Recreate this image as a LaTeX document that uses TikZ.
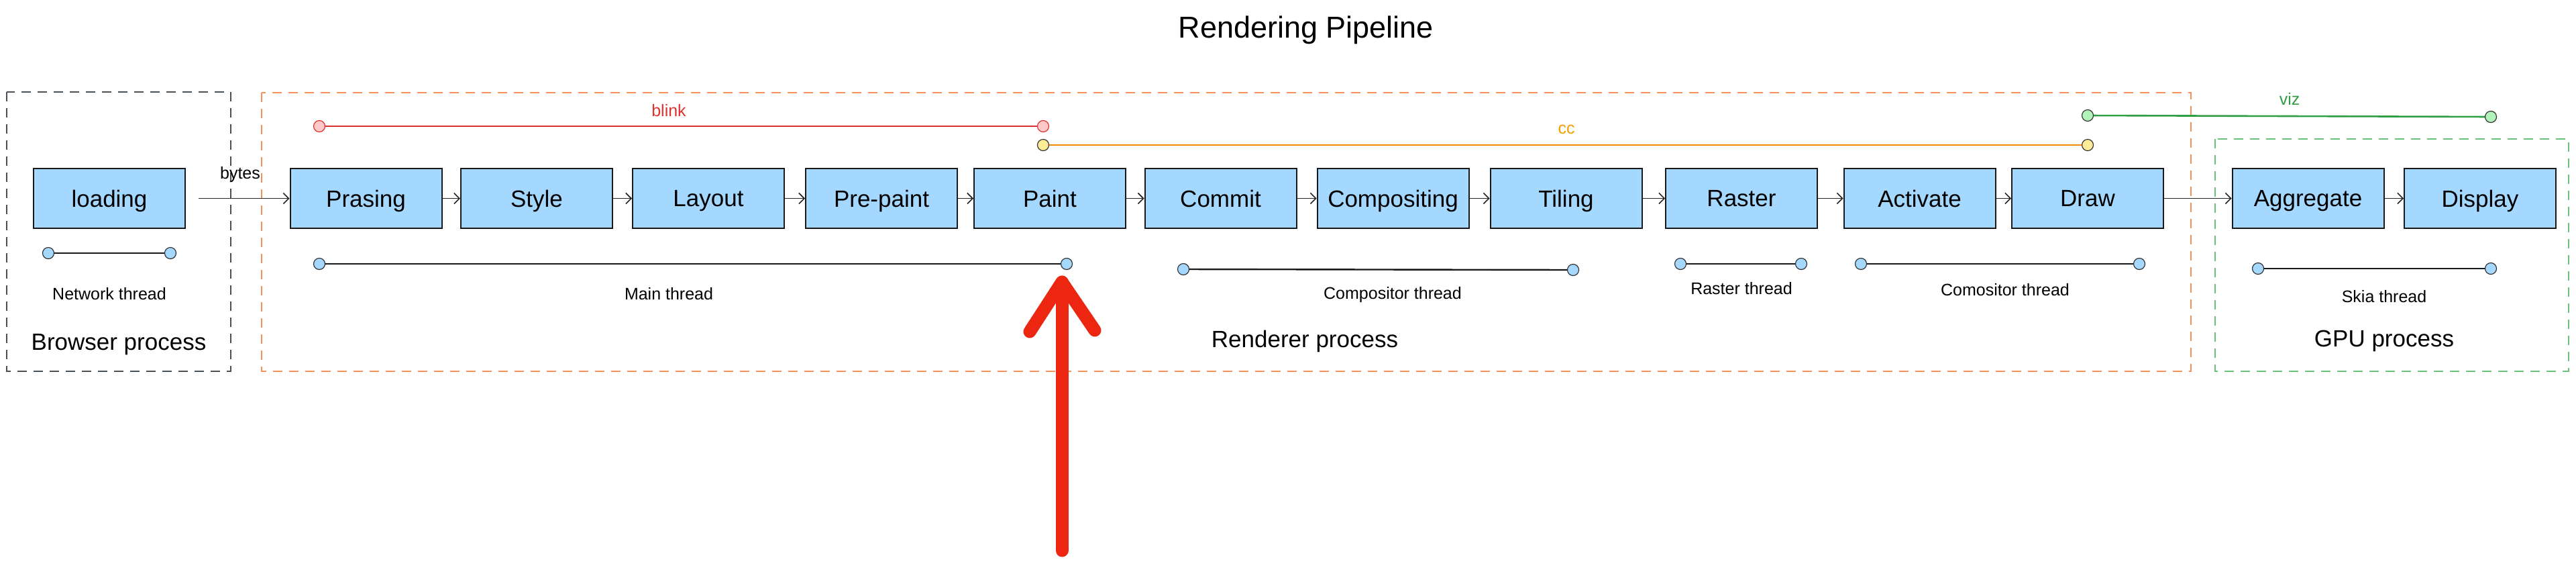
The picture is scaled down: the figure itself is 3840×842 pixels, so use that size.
\documentclass[tikz,border=0pt]{standalone}
\usepackage{fontspec}
\setmainfont{Liberation Sans}
\usetikzlibrary{arrows.meta}
\definecolor{boxblue}{HTML}{A5D8FF}
\definecolor{blinkred}{HTML}{E03131}
\definecolor{blinkfill}{HTML}{FFC9C9}
\definecolor{ccorange}{HTML}{F59F00}
\definecolor{ccline}{HTML}{F08C00}
\definecolor{ccfill}{HTML}{FFEC99}
\definecolor{vizgreen}{HTML}{2F9E44}
\definecolor{vizfill}{HTML}{B2F2BB}
\definecolor{rendorange}{HTML}{F4925A}
\definecolor{gpugreen}{HTML}{69C07A}
\definecolor{browsergrey}{HTML}{495057}
\definecolor{markred}{HTML}{EC2610}
\begin{document}
\begin{tikzpicture}[x=0.5pt,y=-0.5pt,
  stage/.style={draw=black!90, line width=1pt, fill=boxblue, minimum width=113pt, minimum height=44.5pt, inner sep=0pt, text depth=0pt, font=\fontsize{17.5}{20}\selectfont},
  flow/.style={draw=black!85, line width=0.8pt, -{Straight Barb[length=4pt,width=8pt]}},
  dotblue/.style={circle, draw=black!80, fill=boxblue, line width=0.6pt, minimum size=8.5pt, inner sep=0pt},
  dotred/.style={circle, draw=blinkred, fill=blinkfill, line width=0.6pt, minimum size=8.5pt, inner sep=0pt},
  dotyellow/.style={circle, draw=black!80, fill=ccfill, line width=0.6pt, minimum size=8.5pt, inner sep=0pt},
  dotgreen/.style={circle, draw=black!80, fill=vizfill, line width=0.6pt, minimum size=8.5pt, inner sep=0pt},
  threadline/.style={draw=black!90, line width=1.2pt},
  threadlabel/.style={font=\fontsize{12.5}{15}\selectfont},
  proclabel/.style={font=\fontsize{17.5}{20}\selectfont},
  procbox/.style={line width=0.8pt, dash pattern=on 7pt off 5pt}
]
\useasboundingbox (0,0) rectangle (3840,842);

% title
\node[font=\fontsize{22.5}{26}\selectfont] (title) at (1947,45) {Rendering Pipeline};

% process boxes
\draw[procbox, draw=browsergrey] (10,137) rectangle (344,553);
\draw[procbox, draw=rendorange] (390,138) rectangle (3266,553);
\draw[procbox, draw=gpugreen] (3302,207) rectangle (3829,553);
\node[proclabel] (browserlbl) at (177,513) {Browser process};
\node[proclabel] (rendererlbl) at (1945,508) {Renderer process};
\node[proclabel] (gpulbl) at (3554,508) {GPU process};

% stages
\node[stage] (loading) at (163,295.5) {loading};
\node[stage] (prasing) at (545.5,295.5) {Prasing};
\node[stage] (style) at (800,295.5) {Style};
\node[stage] (layout) at (1056,295.5) {Layout};
\node[stage] (prepaint) at (1314,295.5) {Pre-paint};
\node[stage] (paint) at (1565,295.5) {Paint};
\node[stage] (commit) at (1819.5,295.5) {Commit};
\node[stage] (compositing) at (2076.5,295.5) {Compositing};
\node[stage] (tiling) at (2334.5,295.5) {Tiling};
\node[stage] (raster) at (2596,295.5) {Raster};
\node[stage] (activate) at (2861.5,295.5) {Activate};
\node[stage] (draw) at (3112,295.5) {Draw};
\node[stage] (aggregate) at (3440.5,295.5) {Aggregate};
\node[stage] (display) at (3697,295.5) {Display};

% flow arrows
\draw[flow, shorten <=9.5pt] (loading) -- (prasing);
\node[threadlabel] (bytes) at (358,260) {bytes};
\draw[flow] (prasing) -- (style);
\draw[flow] (style) -- (layout);
\draw[flow] (layout) -- (prepaint);
\draw[flow] (prepaint) -- (paint);
\draw[flow] (paint) -- (commit);
\draw[flow] (commit) -- (compositing);
\draw[flow] (compositing) -- (tiling);
\draw[flow] (tiling) -- (raster);
\draw[flow] (raster) -- (activate);
\draw[flow] (activate) -- (draw);
\draw[flow] (draw) -- (aggregate);
\draw[flow] (aggregate) -- (display);

% module spans
\node[dotred] (blinkA) at (476,188) {};
\node[dotred] (blinkB) at (1555,188) {};
\draw[draw=blinkred, line width=1.3pt] (blinkA) -- (blinkB);
\node[threadlabel, text=blinkred] (blinklbl) at (997,165) {blink};

\node[dotyellow] (ccA) at (1555,216) {};
\node[dotyellow] (ccB) at (3112,216) {};
\draw[draw=ccline, line width=1.3pt] (ccA) -- (ccB);
\node[threadlabel, text=ccorange] (cclbl) at (2335,193) {cc};

\node[dotgreen] (vizA) at (3112,172) {};
\node[dotgreen] (vizB) at (3713,174) {};
\draw[draw=vizgreen, line width=1.3pt] (vizA) -- (vizB);
\node[threadlabel, text=vizgreen] (vizlbl) at (3413,147) {viz};

% threads
\node[dotblue] (netA) at (72,377) {};
\node[dotblue] (netB) at (254,377) {};
\draw[threadline] (netA) -- (netB);
\node[threadlabel] (netlbl) at (163,438) {Network thread};

\node[dotblue] (mainA) at (476,393) {};
\node[dotblue] (mainB) at (1590,393) {};
\draw[threadline] (mainA) -- (mainB);
\node[threadlabel] (mainlbl) at (997,438) {Main thread};

\node[dotblue] (compA) at (1764,401) {};
\node[dotblue] (compB) at (2345,402) {};
\draw[threadline] (compA) -- (compB);
\node[threadlabel] (complbl) at (2076,439) {Compositor thread};

\node[dotblue] (rastA) at (2505,393) {};
\node[dotblue] (rastB) at (2685,393) {};
\draw[threadline] (rastA) -- (rastB);
\node[threadlabel] (rastlbl) at (2596,430) {Raster thread};

\node[dotblue] (comoA) at (2774,393) {};
\node[dotblue] (comoB) at (3189,393) {};
\draw[threadline] (comoA) -- (comoB);
\node[threadlabel] (comolbl) at (2989,432) {Comositor thread};

\node[dotblue] (skiaA) at (3366,400) {};
\node[dotblue] (skiaB) at (3713,400) {};
\draw[threadline] (skiaA) -- (skiaB);
\node[threadlabel] (skialbl) at (3554,442) {Skia thread};

% red marker arrow
\coordinate (mkbot) at (1583,820);
\coordinate (mktip) at (1583,420);
\coordinate (mkl) at (1535,494);
\coordinate (mkr) at (1632,492);
\draw[markred, line width=9.5pt, line cap=round, line join=round] (mkbot) -- (mktip);
\draw[markred, line width=9.5pt, line cap=round, line join=round] (mkl) -- (mktip) -- (mkr);
\end{tikzpicture}
\end{document}
